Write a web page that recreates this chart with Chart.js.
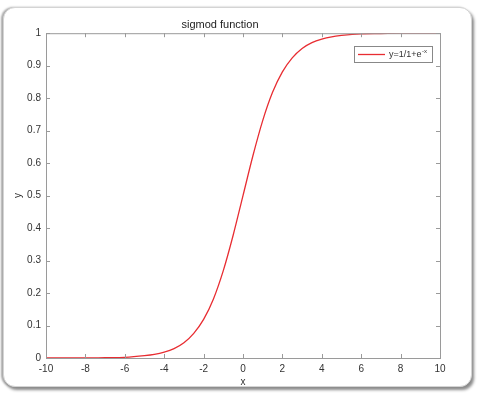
<!DOCTYPE html>
<html>
<head>
<meta charset="utf-8">
<script src="https://cdn.jsdelivr.net/npm/chart.js@4.4.1/dist/chart.umd.min.js"></script>
<style>
  html, body { margin: 0; padding: 0; background: #fff; }
  #wrap { position: relative; width: 478px; height: 394px; }
  #frame {
    position: absolute; left: 3px; top: 7px; width: 467px; height: 378px;
    border: 1px solid #d4d4d4; border-radius: 12px; background: #fff;
    box-shadow: 2px 3px 3px #8a8a8a, -2px 0 2px #aaa;
  }
  canvas { position: absolute; left: 0; top: 0; }
</style>
</head>
<body>
<div id="wrap">
  <div id="frame"></div>
  <canvas id="sigChart" width="478" height="394"></canvas>
</div>
<script>
// values
const xValues = [-10, -9, -8, -7, -6, -5, -4.5, -4, -3.5, -3, -2.5, -2, -1.5, -1, -0.5, 0,
                 0.5, 1, 1.5, 2, 2.5, 3, 3.5, 4, 4.5, 5, 6, 7, 8, 9, 10]
const yValues = [0, 0, 0, 0.001, 0.002, 0.007, 0.011, 0.018, 0.029, 0.047, 0.076, 0.119, 0.182, 0.269, 0.378, 0.5,
                 0.622, 0.731, 0.818, 0.881, 0.924, 0.953, 0.971, 0.982, 0.989, 0.993, 0.998, 0.999, 1, 1, 1]
const xTicks = [-10, -8, -6, -4, -2, 0, 2, 4, 6, 8, 10]
const yTicks = [0, 0.1, 0.2, 0.3, 0.4, 0.5, 0.6, 0.7, 0.8, 0.9, 1]

const lineColor = 'rgb(232, 45, 50)'
const axisColor = '#9a9a9a'
const textColor = '#333'
const font = "'Liberation Sans', Arial, sans-serif"

let points = []
for (let i = 0; i < xValues.length; i++) {
    points.push({x: xValues[i], y: yValues[i]})
}

// box + inward ticks, matlab style
const boxPlugin = {
    id: 'boxPlugin',
    afterDraw(chart) {
        const ctx = chart.ctx
        const a = chart.chartArea
        const xs = chart.scales.x
        const ys = chart.scales.y
        ctx.save()
        ctx.strokeStyle = axisColor
        ctx.lineWidth = 1
        ctx.strokeRect(a.left + 0.5, a.top + 0.5, a.right - a.left, a.bottom - a.top)
        ctx.beginPath()
        xTicks.forEach(t => {
            const px = Math.round(xs.getPixelForValue(t)) + 0.5
            ctx.moveTo(px, a.bottom); ctx.lineTo(px, a.bottom - 4)
            ctx.moveTo(px, a.top); ctx.lineTo(px, a.top + 4)
        })
        yTicks.forEach(t => {
            const py = Math.round(ys.getPixelForValue(t)) + 0.5
            ctx.moveTo(a.left, py); ctx.lineTo(a.left + 4, py)
            ctx.moveTo(a.right, py); ctx.lineTo(a.right - 4, py)
        })
        ctx.stroke()
        ctx.restore()
    }
}

// legend with superscript
const legendPlugin = {
    id: 'legendPlugin',
    afterDraw(chart) {
        const ctx = chart.ctx
        const left = 354, top = 46, w = 78, h = 16
        ctx.save()
        ctx.fillStyle = '#fff'
        ctx.fillRect(left, top, w, h)
        ctx.strokeStyle = '#888'
        ctx.lineWidth = 1
        ctx.strokeRect(left + 0.5, top + 0.5, w, h)
        ctx.strokeStyle = lineColor
        ctx.lineWidth = 1.3
        ctx.beginPath()
        ctx.moveTo(358, top + 8.5); ctx.lineTo(385, top + 8.5)
        ctx.stroke()
        ctx.fillStyle = textColor
        ctx.textBaseline = 'middle'
        ctx.font = '9px ' + font
        ctx.fillText('y=1/1+e', 389, top + 9)
        const wBase = ctx.measureText('y=1/1+e').width
        ctx.font = '6px ' + font
        ctx.fillText('-x', 389 + wBase + 0.5, top + 5)
        ctx.restore()
    }
}

const config = {
    type: 'scatter',
    data: {
        datasets: [{
            label: 'y=1/1+e^-x',
            data: points,
            showLine: true,
            borderColor: lineColor,
            backgroundColor: lineColor,
            borderWidth: 1.3,
            pointRadius: 0,
            cubicInterpolationMode: 'monotone'
        }]
    },
    options: {
        responsive: false,
        animation: false,
        layout: { padding: { left: 0, right: 38, top: 0, bottom: 0 } },
        plugins: {
            legend: { display: false },
            tooltip: { enabled: false },
            title: {
                display: true,
                text: 'sigmod function',
                color: '#222',
                font: { family: font, size: 11, weight: 'normal' },
                padding: { top: 18, bottom: 2 }
            }
        },
        scales: {
            x: {
                type: 'linear', min: -10, max: 10,
                afterBuildTicks: s => { s.ticks = xTicks.map(v => ({value: v})) },
                afterFit: s => { s.height = 36 },
                grid: { display: false, drawTicks: false },
                border: { display: false },
                ticks: { color: textColor, font: { family: font, size: 10 }, padding: 5, maxRotation: 0 },
                title: { display: true, text: 'x', color: textColor, font: { family: font, size: 10 }, padding: { top: 0, bottom: 6 } }
            },
            y: {
                type: 'linear', min: 0, max: 1,
                afterBuildTicks: s => { s.ticks = yTicks.map(v => ({value: v})) },
                afterFit: s => { s.width = 46 },
                grid: { display: false, drawTicks: false },
                border: { display: false },
                ticks: { color: textColor, font: { family: font, size: 10 }, padding: 5, callback: v => String(v) },
                title: { display: true, text: 'y', color: textColor, font: { family: font, size: 10 }, padding: { top: 12, bottom: 0 } }
            }
        }
    },
    plugins: [boxPlugin, legendPlugin]
}

const myChart = new Chart(document.getElementById('sigChart'), config)
</script>
</body>
</html>
